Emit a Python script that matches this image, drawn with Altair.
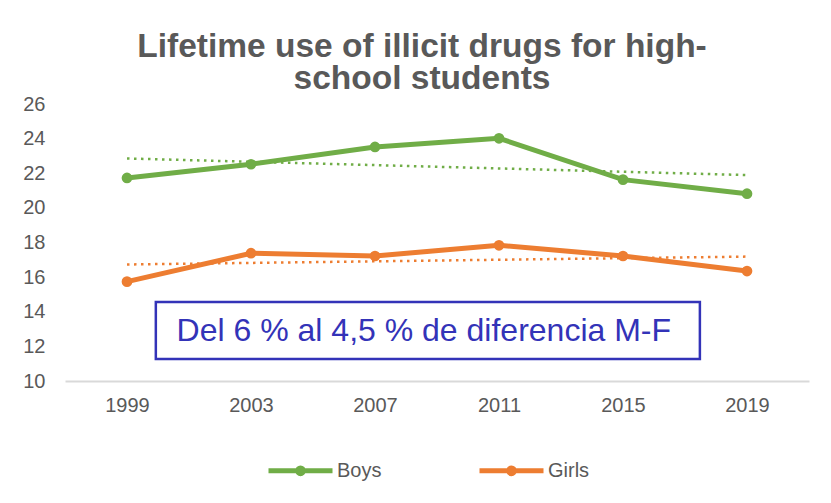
import altair as alt
import pandas as pd

years = [1999, 2003, 2007, 2011, 2015, 2019]
boys = [21.73, 22.52, 23.52, 24.02, 21.63, 20.82]
girls = [15.74, 17.38, 17.22, 17.84, 17.22, 16.35]
series = ["Boys", "Girls"]
colors = ["#70AD47", "#ED7D31"]
y_ticks = [10, 12, 14, 16, 18, 20, 22, 24, 26]

note_text = ["Del 6 % al 4,5 % de diferencia M-F"]
note_x = [1999.93]
note_x2 = [2017.48]
note_y = [14.56]
note_y2 = [11.27]
note_tx = [2000.6]
note_ty = [12.9]

rows = []
for yr, b, g in zip(years, boys, girls):
    rows.append({"year": yr, "value": b, "sex": "Boys"})
    rows.append({"year": yr, "value": g, "sex": "Girls"})
df = pd.DataFrame(rows)

note = pd.DataFrame({"x": note_x, "x2": note_x2, "y": note_y, "y2": note_y2,
                     "tx": note_tx, "ty": note_ty, "text": note_text})

GRAY = "#595959"
BLUE = "#3333B8"

xscale = alt.Scale(domain=[1997, 2021], nice=False, zero=False)
yscale = alt.Scale(domain=[10, 26], nice=False, zero=False)
cscale = alt.Scale(domain=series, range=colors)

xaxis = alt.Axis(values=years, format="d", ticks=False, grid=False, domain=True,
                 domainColor="#D9D9D9", domainWidth=2, labelFontSize=20,
                 labelColor=GRAY, labelPadding=14, title=None, labelFont="Liberation Sans",
                 labelOverlap=False)
yaxis = alt.Axis(values=y_ticks, ticks=False, grid=False, domain=False,
                 labelFontSize=20, labelColor=GRAY, labelPadding=20, title=None,
                 labelFont="Liberation Sans", labelOverlap=False)

legend_path = "M-4,0L4,0M-0.36,0A0.36,0.36,0,1,0,0.36,0A0.36,0.36,0,1,0,-0.36,0"
legend = alt.Legend(
    title=None, orient="none", legendX=225, legendY=356, direction="horizontal",
    symbolType=legend_path, symbolSize=256, symbolStrokeWidth=5,
    labelFontSize=20, labelColor=GRAY, labelOffset=26, columnPadding=87,
    padding=0, labelFont="Liberation Sans")

base = alt.Chart(df)
enc = dict(
    x=alt.X("year:Q", scale=xscale, axis=xaxis),
    y=alt.Y("value:Q", scale=yscale, axis=yaxis),
    color=alt.Color("sex:N", scale=cscale, legend=legend),
)

trend = base.transform_regression("year", "value", groupby=["sex"]).mark_line(
    strokeWidth=2.5, strokeDash=[2.5, 4.5]
).encode(**enc)

lines = base.mark_line(strokeWidth=5).encode(**enc)

points = base.mark_circle(size=115, opacity=1).encode(**enc)

box = alt.Chart(note).mark_rect(fill="white", stroke=BLUE, strokeWidth=2.5).encode(
    x=alt.X("x:Q", scale=xscale, axis=xaxis), x2="x2:Q",
    y=alt.Y("y:Q", scale=yscale, axis=yaxis), y2="y2:Q",
)
label = alt.Chart(note).mark_text(align="left", baseline="middle", fontSize=32,
                                   color=BLUE, font="Liberation Sans").encode(
    x=alt.X("tx:Q", scale=xscale, axis=xaxis),
    y=alt.Y("ty:Q", scale=yscale, axis=yaxis), text="text:N",
)

chart = alt.layer(lines, trend, points, box, label).properties(
    width=744, height=277,
    autosize=alt.AutoSizeParams(type="none"),
    padding={"left": 57, "top": 96, "right": 14, "bottom": 114},
    title=alt.TitleParams(
        text=["Lifetime use of illicit drugs for high-", "school students"],
        fontSize=33.5, fontWeight="bold", color=GRAY, font="Liberation Sans",
        anchor="middle", frame="group", lineHeight=32, dx=-15, dy=9, offset=7,
    ),
).configure_view(stroke=None)

chart.save("out.html", embed_options={"renderer": "svg", "actions": False})
